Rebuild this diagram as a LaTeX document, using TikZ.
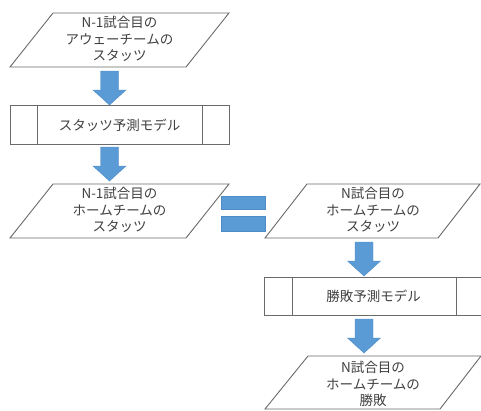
\documentclass[tikz,border=0pt]{standalone}
\usepackage{fontspec}
\setmainfont{Noto Sans CJK JP}
\definecolor{lineg}{HTML}{6A6A6A}
\definecolor{txtg}{HTML}{404040}
\definecolor{blk}{HTML}{5B9BD5}
\definecolor{blkedge}{HTML}{4F8CC6}
\tikzset{
  shapeline/.style={draw=lineg, line width=0.9pt, fill=white},
  lbl/.style={text=txtg, align=center, inner sep=0pt, font=\fontsize{13.5}{16.8}\selectfont},
  blockarr/.style={fill=blk, draw=blkedge, line width=0.4pt},
}
\newcommand\downblock[2]{% center x, top y
  \path[blockarr] (#1-9,#2) -- (#1+9,#2) -- (#1+9,#2+19) -- (#1+16.5,#2+19)
     -- (#1,#2+34) -- (#1-16.5,#2+19) -- (#1-9,#2+19) -- cycle;}
\begin{document}
\begin{tikzpicture}[x=1pt,y=-1pt]
\useasboundingbox (0,0) rectangle (481,410);
% parallelogram 1
\path[shapeline] (53,13) -- (229,13) -- (186,67) -- (10,67) -- cycle;
\node[lbl] (awaystats) at (119.5,39) {N-1試合目の\\アウェーチームの\\スタッツ};
% arrow 1
\downblock{109.5}{71}
% box 1
\path[shapeline] (10,105) rectangle (229,144);
\draw[lineg, line width=0.9pt] (37,105) -- (37,144) (202,105) -- (202,144);
\node[lbl] (statsmodel) at (119.5,125) {スタッツ予測モデル};
% arrow 2
\downblock{109.5}{147}
% parallelogram 2
\path[shapeline] (53,184) -- (229,184) -- (186,238) -- (10,238) -- cycle;
\node[lbl] (homeprev) at (119.5,210) {N-1試合目の\\ホームチームの\\スタッツ};
% equal sign
\path[blockarr] (221,196) rectangle (265,209);
\path[blockarr] (221,216) rectangle (265,231);
% parallelogram 3
\path[shapeline] (307,184) -- (480,184) -- (438,238) -- (265,238) -- cycle;
\node[lbl] (homecur) at (373,210) {N試合目の\\ホームチームの\\スタッツ};
% arrow 3
\downblock{364}{242}
% box 2
\path[shapeline] (264,277) rectangle (484,315);
\draw[lineg, line width=0.9pt] (292,277) -- (292,315) (456,277) -- (456,315);
\node[lbl] (winmodel) at (373.5,296) {勝敗予測モデル};
% arrow 4
\downblock{364}{319}
% parallelogram 4
\path[shapeline] (308,356) -- (481,356) -- (440,409) -- (265,409) -- cycle;
\node[lbl] (result) at (373,384) {N試合目の\\ホームチームの\\勝敗};
\end{tikzpicture}
\end{document}
